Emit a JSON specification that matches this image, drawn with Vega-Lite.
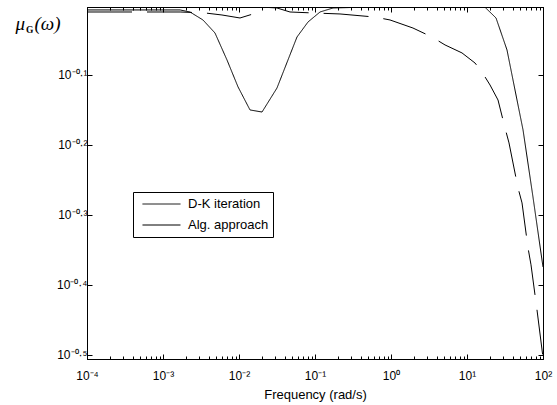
{
  "$schema": "https://vega.github.io/schema/vega-lite/v6.json",
  "width": 456,
  "height": 352,
  "autosize": {"type": "none"},
  "padding": {"left": 87, "top": 7, "right": 14, "bottom": 46},
  "background": "white",
  "config": {
    "view": {"stroke": "black", "strokeWidth": 1},
    "axis": {"domainColor": "black", "tickColor": "black", "labelColor": "black", "titleColor": "black", "labelFont": "Liberation Sans", "titleFont": "Liberation Sans", "grid": false, "domainWidth": 1, "tickWidth": 1}
  },
  "title": {"text": "G", "anchor": "start", "frame": "group", "font": "Liberation Serif", "fontWeight": "bold", "fontSize": 9.5, "dx": -61, "dy": 36, "offset": 0, "baseline": "alphabetic", "color": "black"},
  "data": {"values": [
    {"series": "D-K iteration", "f": 0.0001, "mu": 0.9838},
    {"series": "D-K iteration", "f": 0.00168, "mu": 0.9838},
    {"series": "D-K iteration", "f": 0.002265, "mu": 0.9772},
    {"series": "D-K iteration", "f": 0.003357, "mu": 0.9519},
    {"series": "D-K iteration", "f": 0.004831, "mu": 0.912},
    {"series": "D-K iteration", "f": 0.00695, "mu": 0.8345},
    {"series": "D-K iteration", "f": 0.009705, "mu": 0.7638},
    {"series": "D-K iteration", "f": 0.01396, "mu": 0.7079},
    {"series": "D-K iteration", "f": 0.02009, "mu": 0.7031},
    {"series": "D-K iteration", "f": 0.03162, "mu": 0.761},
    {"series": "D-K iteration", "f": 0.05794, "mu": 0.9},
    {"series": "D-K iteration", "f": 0.08091, "mu": 0.9456},
    {"series": "D-K iteration", "f": 0.1164, "mu": 0.9772},
    {"series": "D-K iteration", "f": 0.1726, "mu": 0.9902},
    {"series": "D-K iteration", "f": 0.391, "mu": 0.9925},
    {"series": "D-K iteration", "f": 17.26, "mu": 0.9925},
    {"series": "D-K iteration", "f": 24.1, "mu": 0.9581},
    {"series": "D-K iteration", "f": 33.6, "mu": 0.8624},
    {"series": "D-K iteration", "f": 45.5, "mu": 0.7315},
    {"series": "D-K iteration", "f": 54.6, "mu": 0.663},
    {"series": "D-K iteration", "f": 73.8, "mu": 0.5316},
    {"series": "D-K iteration", "f": 100, "mu": 0.4222},
    {"series": "Alg. approach", "f": 0.0001, "mu": 0.9772},
    {"series": "Alg. approach", "f": 0.00168, "mu": 0.9772},
    {"series": "Alg. approach", "f": 0.003573, "mu": 0.9741},
    {"series": "Alg. approach", "f": 0.00597, "mu": 0.9676},
    {"series": "Alg. approach", "f": 0.01031, "mu": 0.9581},
    {"series": "Alg. approach", "f": 0.01528, "mu": 0.9708},
    {"series": "Alg. approach", "f": 0.02198, "mu": 0.9925},
    {"series": "Alg. approach", "f": 0.03162, "mu": 0.9902},
    {"series": "Alg. approach", "f": 0.04688, "mu": 0.9772},
    {"series": "Alg. approach", "f": 0.09418, "mu": 0.9741},
    {"series": "Alg. approach", "f": 0.2133, "mu": 0.9709},
    {"series": "Alg. approach", "f": 0.6152, "mu": 0.961},
    {"series": "Alg. approach", "f": 0.9705, "mu": 0.9519},
    {"series": "Alg. approach", "f": 1.945, "mu": 0.927},
    {"series": "Alg. approach", "f": 3.459, "mu": 0.9},
    {"series": "Alg. approach", "f": 5.14, "mu": 0.8768},
    {"series": "Alg. approach", "f": 8.59, "mu": 0.8541},
    {"series": "Alg. approach", "f": 12.74, "mu": 0.8262},
    {"series": "Alg. approach", "f": 15.74, "mu": 0.8021},
    {"series": "Alg. approach", "f": 20.09, "mu": 0.7685},
    {"series": "Alg. approach", "f": 25.59, "mu": 0.7315},
    {"series": "Alg. approach", "f": 31.62, "mu": 0.6673},
    {"series": "Alg. approach", "f": 35.7, "mu": 0.6351},
    {"series": "Alg. approach", "f": 46.88, "mu": 0.5478},
    {"series": "Alg. approach", "f": 52.97, "mu": 0.5213},
    {"series": "Alg. approach", "f": 63.49, "mu": 0.4497},
    {"series": "Alg. approach", "f": 69.55, "mu": 0.4252},
    {"series": "Alg. approach", "f": 83.37, "mu": 0.3666},
    {"series": "Alg. approach", "f": 100, "mu": 0.3135}
  ]},
  "layer": [
    {
      "mark": {"type": "line", "color": "black", "strokeWidth": 1, "clip": true},
      "encoding": {
        "x": {
          "field": "f", "type": "quantitative",
          "scale": {"type": "log", "domain": [0.0001, 100], "nice": false},
          "axis": {
            "orient": "bottom",
            "values": [0.0001,0.0002,0.0003,0.0004,0.0005,0.0006,0.0007,0.0008,0.0009,0.001,0.002,0.003,0.004,0.005,0.006,0.007,0.008,0.009,0.01,0.02,0.03,0.04,0.05,0.06,0.07,0.08,0.09,0.1,0.2,0.3,0.4,0.5,0.6,0.7,0.8,0.9,1,2,3,4,5,6,7,8,9,10,20,30,40,50,60,70,80,90,100],
            "labelExpr": "abs(log(datum.value)/LN10 - round(log(datum.value)/LN10)) < 0.001 ? '10' + (round(log(datum.value)/LN10) < 0 ? '⁻' : '') + ['⁰','¹','²','³','⁴'][abs(round(log(datum.value)/LN10))] : ''",
            "labelOverlap": false,
            "labelFlush": false,
            "labelFontSize": 12,
            "labelPadding": 16,
            "tickSize": {"condition": {"test": "abs(log(datum.value)/LN10 - round(log(datum.value)/LN10)) > 0.001", "value": -3}, "value": -5},
            "title": "Frequency (rad/s)",
            "titleFontSize": 13,
            "titleFontWeight": "normal",
            "titleX": 228,
            "titleY": 39,
            "titleAlign": "center",
            "titleBaseline": "alphabetic"
          }
        },
        "y": {
          "field": "mu", "type": "quantitative",
          "scale": {"type": "log", "domain": [0.3119, 0.9934], "nice": false, "zero": false},
          "axis": {
            "orient": "left",
            "values": [0.7943, 0.631, 0.5012, 0.3981, 0.3162],
            "labelExpr": "'10⁻⁰·' + ['¹','²','³','⁴','⁵'][round(-log(datum.value)/LN10*10)-1]",
            "labelFontSize": 12,
            "labelPadding": 5,
            "tickSize": -5,
            "title": "μ\u00a0\u00a0(ω)",
            "titleAngle": 0,
            "titleAlign": "left",
            "titleBaseline": "alphabetic",
            "titleX": -72,
            "titleY": 22,
            "titleFont": "Liberation Serif",
            "titleFontStyle": "italic",
            "titleFontWeight": "normal",
            "titleFontSize": 19
          }
        },
        "strokeDash": {
          "field": "series", "type": "nominal",
          "scale": {"domain": ["D-K iteration", "Alg. approach"], "range": [[1, 0], [45, 15]]},
          "legend": {
            "orient": "none", "legendX": 46, "legendY": 185,
            "title": null,
            "strokeColor": "black", "fillColor": "white", "padding": 4.5,
            "labelFont": "Liberation Sans", "labelFontSize": 13, "labelColor": "black",
            "symbolType": "M-0.36,0H5.07", "symbolSize": 196, "symbolStrokeWidth": 1, "symbolStrokeColor": "black",
            "rowPadding": 6, "labelOffset": 35.5
          }
        }
      }
    },
    {
      "mark": {"type": "line", "opacity": 0},
      "encoding": {
        "x": {
          "field": "f", "type": "quantitative",
          "axis": {
            "orient": "top",
            "values": [0.0001,0.0002,0.0003,0.0004,0.0005,0.0006,0.0007,0.0008,0.0009,0.001,0.002,0.003,0.004,0.005,0.006,0.007,0.008,0.009,0.01,0.02,0.03,0.04,0.05,0.06,0.07,0.08,0.09,0.1,0.2,0.3,0.4,0.5,0.6,0.7,0.8,0.9,1,2,3,4,5,6,7,8,9,10,20,30,40,50,60,70,80,90,100],
            "labels": false,
            "tickSize": {"condition": {"test": "abs(log(datum.value)/LN10 - round(log(datum.value)/LN10)) > 0.001", "value": -3}, "value": -5},
            "title": null
          }
        },
        "y": {
          "field": "mu", "type": "quantitative",
          "axis": {
            "orient": "right",
            "values": [0.7943, 0.631, 0.5012, 0.3981, 0.3162],
            "labels": false,
            "tickSize": -5,
            "title": null
          }
        }
      }
    }
  ],
  "resolve": {"axis": {"x": "independent", "y": "independent"}}
}
